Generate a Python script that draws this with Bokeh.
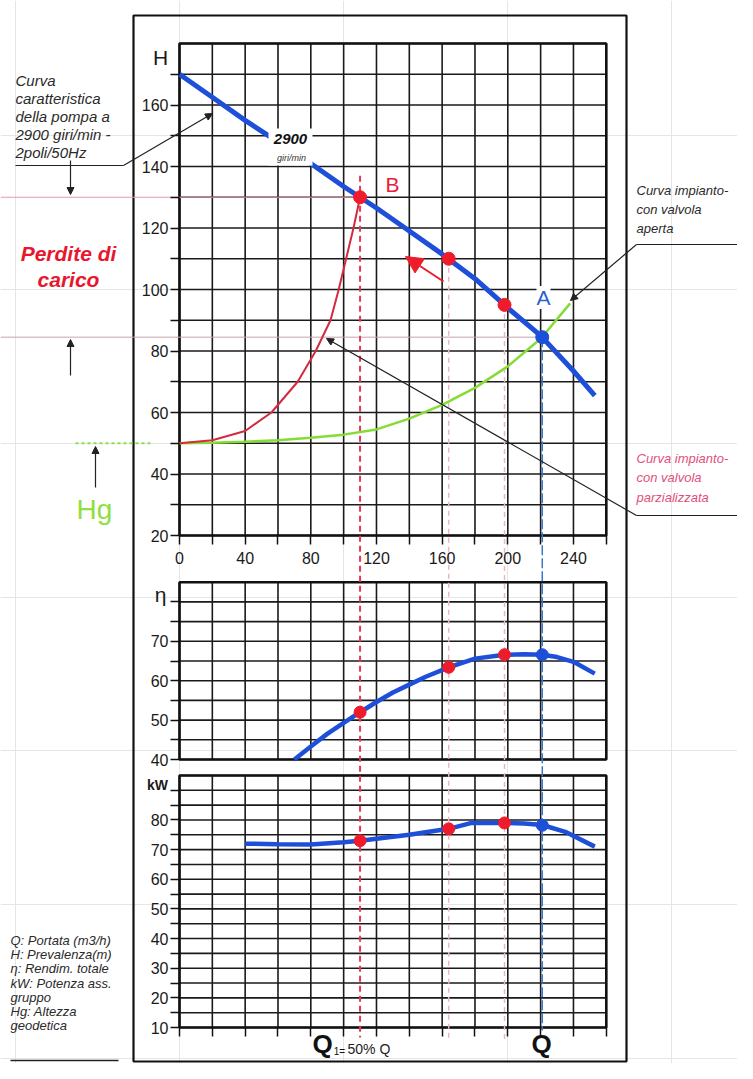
from bokeh.plotting import figure
from bokeh.models import (Range1d, LinearAxis, FixedTicker, Arrow, NormalHead,
                          Label, BoxAnnotation)
from bokeh.core.properties import value
from bokeh.embed import file_html
from bokeh.resources import INLINE

# ---------------- data ----------------
# pump characteristic H(Q) at 2900 giri/min
Q_PUMP = [0, 20, 40, 60, 80, 100, 120, 140, 160, 180, 200, 220, 240, 253]
H_PUMP = [170, 162.5, 155, 148, 141, 133.5, 126.5, 119, 111.5, 103.5, 94, 85, 73.5, 65.5]
# system curve, throttled valve
Q_THROT = [0, 20, 40, 56, 72, 83, 92, 97, 101.5, 106, 110]
H_THROT = [50, 51, 54, 60, 70, 80, 90, 100, 110, 120, 130]
# system curve, open valve
Q_OPEN = [0, 20, 40, 60, 80, 100, 120, 140, 160, 180, 200, 220, 238]
H_OPEN = [50, 50.2, 50.5, 51, 51.8, 52.8, 54.5, 58, 62.5, 68, 75, 84, 95.5]
# efficiency
Q_ETA = [70, 80, 90, 100, 110, 120, 130, 140, 150, 164, 180, 198, 210, 221, 230, 240, 253]
ETA = [40, 43.3, 46.5, 49.3, 52, 54.6, 57, 59, 61, 63.4, 65.6, 66.6, 66.7, 66.6, 66, 64.8, 61.8]
# absorbed power
Q_KW = [40, 60, 80, 100, 110, 125, 140, 164, 178, 198, 210, 221, 235, 253]
KW = [72, 71.8, 71.7, 72.5, 73, 74, 75, 77, 79, 79, 78.8, 78.3, 76, 71]
# throttled operating points (B and intermediate) and design point A
OP_Q = [110, 164, 198]
OP_H = [130, 110, 95]
OP_ETA = [52, 63.4, 66.6]
OP_KW = [73, 77, 79]
A_Q = [221]
A_H = [84.5]
A_ETA = [66.6]
A_KW = [78.2]
HG = 50

# ticks / grid
Q_GRID = [0, 20, 40, 60, 80, 100, 120, 140, 160, 180, 200, 220, 240, 260]
Q_TICKS = [0, 40, 80, 120, 160, 200, 240]
Q_MINOR = [20, 60, 100, 140, 180, 220, 260]
H_GRID = [20, 30, 40, 50, 60, 70, 80, 90, 100, 110, 120, 130, 140, 150, 160, 170, 180]
H_TICKS = [20, 40, 60, 80, 100, 120, 140, 160]
H_MINOR = [30, 50, 70, 90, 110, 130, 150, 170]
ETA_GRID = [40, 45, 50, 55, 60, 65, 70, 75, 80, 85]
ETA_TICKS = [40, 50, 60, 70]
ETA_MINOR = [45, 55, 65, 75, 80]
KW_GRID = [10, 15, 20, 25, 30, 35, 40, 45, 50, 55, 60, 65, 70, 75, 80, 85, 90, 95]
KW_TICKS = [10, 20, 30, 40, 50, 60, 70, 80]
KW_MINOR = [15, 25, 35, 45, 55, 65, 75, 85, 90]

TL_LINES = ["Curva", "caratteristica", "della pompa a", "2900 giri/min -", "2poli/50Hz"]
LEG_LINES = ["Q: Portata (m3/h)", "H: Prevalenza(m)", "\u03b7: Rendim. totale",
             "kW: Potenza ass.", "gruppo", "Hg: Altezza", "geodetica"]
OPEN_LINES = ["Curva impianto-", "con valvola", "aperta"]
THROT_LINES = ["Curva impianto-", "con valvola", "parzializzata"]

# ---------------- layout helpers (page pixel -> data units) ----------------
W, HGT = 737, 1063
OFF = 0
X_Q0, PX_Q = 179.0, 1.6415
Y_H20, PX_H = 535.0, 3.075
Y_E40, PX_E = 759.0, 3.94
Y_K10, PX_K = 1027.0, 2.965


def qx(px):
    return (px - X_Q0) / PX_Q


def hy(py):
    return 20 + (Y_H20 - py) / PX_H


def ey(py):
    return 40 + (Y_E40 - py) / PX_E


def ky(py):
    return 10 + (Y_K10 - py) / PX_K


FONT = "Liberation Sans"
BLUE = "#1e4fd8"
RED = "#ee1c2a"

p = figure(width=W, height=HGT, output_backend="svg", toolbar_location=None, tools="",
           x_range=Range1d(qx(OFF), qx(OFF + W)), y_range=Range1d(hy(OFF + HGT), hy(OFF)),
           x_axis_location=None, y_axis_location=None, min_border=0, title=None)
p.extra_y_ranges = {"eta": Range1d(ey(OFF + HGT), ey(OFF)),
                    "kw": Range1d(ky(OFF + HGT), ky(OFF))}
p.outline_line_color = None
p.background_fill_color = "white"
p.border_fill_color = "white"

# outer frame
p.quad(left=[qx(133)], right=[qx(626)], top=[hy(15)], bottom=[hy(1061)],
       fill_color=None, line_color="#111111", line_width=2.2)


def panel(y_grid, yname):
    n, m = len(Q_GRID), len(y_grid)
    lo, hi = y_grid[0], y_grid[-1]
    p.segment(x0=Q_GRID, y0=[lo] * n, x1=Q_GRID, y1=[hi] * n,
              line_color="#1a1a1a", line_width=1.6, y_range_name=yname)
    p.segment(x0=[Q_GRID[0]] * m, y0=y_grid, x1=[Q_GRID[-1]] * m, y1=y_grid,
              line_color="#1a1a1a", line_width=1.6, y_range_name=yname)
    p.quad(left=[Q_GRID[0]], right=[Q_GRID[-1]], bottom=[lo], top=[hi],
           fill_color=None, line_color="#111111", line_width=2.6, y_range_name=yname)


panel(H_GRID, "default")
panel(ETA_GRID, "eta")
panel(KW_GRID, "kw")


def style_axis(ax, standoff):
    ax.axis_line_color = None
    ax.major_tick_line_color = "#111111"
    ax.minor_tick_line_color = "#111111"
    ax.major_tick_line_width = 1.5
    ax.minor_tick_line_width = 1.5
    ax.major_tick_in = 0
    ax.minor_tick_in = 0
    ax.major_tick_out = 9
    ax.minor_tick_out = 9
    ax.major_label_standoff = standoff
    ax.major_label_text_font = FONT
    ax.major_label_text_font_size = "16px"
    ax.major_label_text_color = "#1a1a1a"


for ticks, minor, rname in [(H_TICKS, H_MINOR, "default"),
                            (ETA_TICKS, ETA_MINOR, "eta"),
                            (KW_TICKS, KW_MINOR, "kw")]:
    ay = LinearAxis(y_range_name=rname, fixed_location=0,
                    ticker=FixedTicker(ticks=ticks, minor_ticks=minor))
    style_axis(ay, 2)
    p.add_layout(ay, "left")

ax1 = LinearAxis(fixed_location=H_GRID[0], ticker=FixedTicker(ticks=Q_TICKS, minor_ticks=Q_MINOR))
style_axis(ax1, 7)
p.add_layout(ax1, "below")
ax2 = LinearAxis(y_range_name="kw", fixed_location=KW_GRID[0],
                 ticker=FixedTicker(ticks=[], minor_ticks=Q_GRID))
style_axis(ax2, 7)
p.add_layout(ax2, "below")

# horizontal reference lines (Perdite di carico)
p.line([qx(0), OP_Q[0]], [OP_H[0], OP_H[0]], line_color="#e59aaa", line_width=1)
p.line([qx(0), A_Q[0]], [A_H[0], A_H[0]], line_color="#c9a3ab", line_width=1)
# Hg dotted line
p.line([qx(75), qx(150)], [HG, HG], line_color="#8fe04a", line_width=2, line_dash="3 3")

# vertical guide lines
p.segment(x0=[OP_Q[0]], y0=[137], x1=[OP_Q[0]], y1=[hy(1037)],
          line_color="#e23a58", line_width=2, line_dash="6 4")
p.segment(x0=OP_Q[1:], y0=OP_H[1:], x1=OP_Q[1:], y1=[hy(1040)] * 2,
          line_color="#e8b6c4", line_width=1.5, line_dash="5 4")
p.segment(x0=A_Q, y0=A_H, x1=A_Q, y1=[hy(1030)],
          line_color="#3c78c8", line_width=1.5, line_dash="10 3")

# leaders (black)
p.line([qx(15), qx(123)], [hy(165), hy(165)], line_color="#222222", line_width=1.2)
p.line([qx(636), qx(747)], [hy(244), hy(244)], line_color="#222222", line_width=1.2)
p.line([qx(636), qx(750)], [hy(515), hy(515)], line_color="#222222", line_width=1.2)
p.line([qx(10), qx(118)], [hy(1060), hy(1060)], line_color="#222222", line_width=1.5)

# curves
p.line(Q_OPEN, H_OPEN, line_color="#84dc34", line_width=2.5)
p.line(Q_THROT, H_THROT, line_color="#d42a3e", line_width=2)
p.line(Q_PUMP, H_PUMP, line_color=BLUE, line_width=5)
p.line(Q_ETA, ETA, line_color=BLUE, line_width=4.5, y_range_name="eta")
p.line(Q_KW, KW, line_color=BLUE, line_width=4.5, y_range_name="kw")

# operating points
p.scatter(OP_Q, OP_H, size=13, color=RED)
p.scatter(A_Q, A_H, size=13, color=BLUE)
p.scatter(OP_Q, OP_ETA, size=12, color=RED, y_range_name="eta")
p.scatter(A_Q, A_ETA, size=12, color=BLUE, y_range_name="eta")
p.scatter(OP_Q, OP_KW, size=12, color=RED, y_range_name="kw")
p.scatter(A_Q, A_KW, size=12, color=BLUE, y_range_name="kw")


def arrow(x0, y0, x1, y1, color="#222222", size=7, width=1.2):
    p.add_layout(Arrow(x_start=x0, y_start=y0, x_end=x1, y_end=y1,
                       line_color=color, line_width=width,
                       end=NormalHead(size=size, fill_color=color, line_color=color)))


arrow(qx(123), hy(165), qx(212), hy(113))
arrow(qx(636), hy(244), qx(570), hy(300))
arrow(qx(636), hy(515), qx(326), hy(338))
arrow(qx(70), hy(160), qx(70), hy(194))
arrow(qx(70), hy(375), qx(70), hy(339))
arrow(qx(95), hy(487), qx(95), hy(446))
# red arrow: throttling direction along the pump curve
arrow(qx(443), hy(281), qx(405), hy(256), color=RED, size=17, width=2)


def text(xs, ys, texts, size, color="#2a2a2a", style="normal", align="left"):
    p.text(x=[qx(v) for v in xs], y=[hy(v) for v in ys], text=texts,
           text_font=value(FONT), text_font_size=f"{size}px", text_color=color,
           text_font_style=style, text_align=align, text_baseline="middle")


text([15] * 5, [80, 98, 116, 134, 152], TL_LINES, 15, style="italic")
text([10] * 7, [940 + 14.2 * i for i in range(7)], LEG_LINES, 13, style="italic")
text([636] * 3, [190, 209, 228], OPEN_LINES, 13, style="italic")
text([636] * 3, [458, 477, 497], THROT_LINES, 13, color="#e0507a", style="italic")
text([68, 68], [253, 279], ["Perdite di", "carico"], 21, color="#e8162e",
     style="bold italic", align="center")
text([94], [509], ["Hg"], 28, color="#8ee040", align="center")
text([160], [57], ["H"], 21, color="#1a1a1a", align="center")
text([160], [594], ["\u03b7"], 21, color="#1a1a1a", align="center")
text([157], [784], ["kW"], 14, color="#1a1a1a", style="bold", align="center")
text([322], [1043], ["Q"], 26, color="#111111", style="bold", align="center")
text([339], [1051], ["1="], 10, color="#111111", align="center")
text([347], [1048], ["50% Q"], 14, color="#222222")
text([541], [1043], ["Q"], 26, color="#111111", style="bold", align="center")

# white patch behind the speed label
p.add_layout(BoxAnnotation(left=qx(268), right=qx(312), top=hy(128), bottom=hy(165),
                           fill_color="white", fill_alpha=1.0, line_color=None))
p.add_layout(Label(x=qx(290), y=hy(138), text="2900", text_font=FONT,
                   text_font_size="15px", text_font_style="bold italic",
                   text_color="#111111", text_align="center", text_baseline="middle"))
p.add_layout(Label(x=qx(291), y=hy(157), text="giri/min", text_font=FONT,
                   text_font_size="9px", text_font_style="italic",
                   text_color="#333333", text_align="center", text_baseline="middle"))
p.add_layout(Label(x=qx(392), y=hy(184), text="B", text_font=FONT, text_font_size="21px",
                   text_color="#e8203a", text_align="center", text_baseline="middle",
                   background_fill_color="white"))
p.add_layout(Label(x=qx(543), y=hy(297), text="A", text_font=FONT, text_font_size="21px",
                   text_color="#2a5fd0", text_align="center", text_baseline="middle",
                   background_fill_color="white"))

open("out.html", "w").write(file_html(p, INLINE))
